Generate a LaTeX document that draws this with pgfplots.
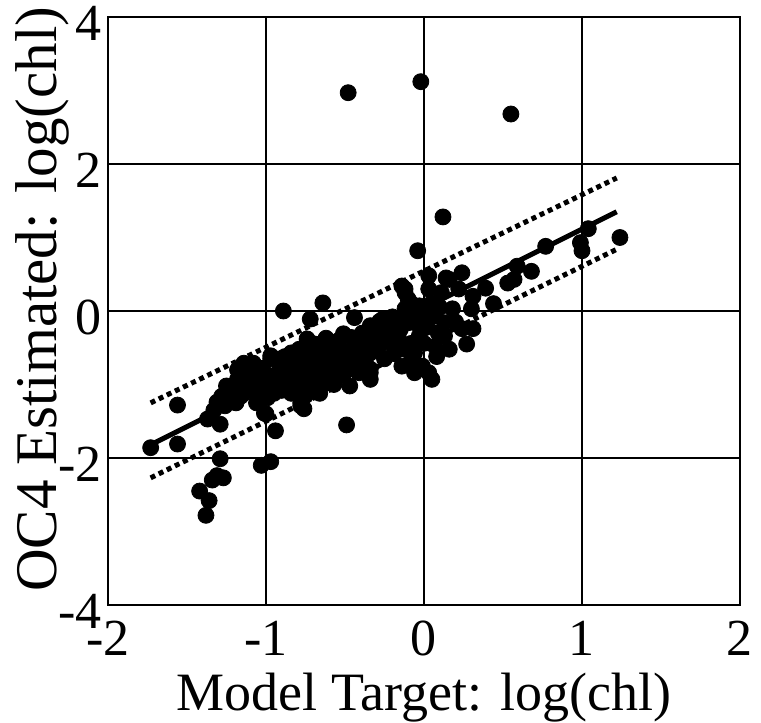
\documentclass[border=0pt]{standalone}
\usepackage{fontspec}
\setmainfont{Liberation Serif}
\usepackage{pgfplots}
\pgfplotsset{compat=1.18}
\usepackage{pgfplotstable}

\pgfplotstableread{
x y
-0.48 2.97
-0.02 3.12
0.55 2.68
0.12 1.28
-0.04 0.82
-0.89 0.00
-0.64 0.11
-0.72 -0.11
-0.44 -0.09
-0.49 -1.55
-1.03 -2.10
-0.97 -2.05
-1.29 -2.01
-1.27 -2.27
-1.34 -2.30
-1.31 -2.24
-1.42 -2.45
-1.36 -2.58
-1.38 -2.78
-1.73 -1.86
-1.56 -1.81
-1.56 -1.28
-0.94 -1.63
-1.00 -1.40
-1.37 -1.47
-1.29 -1.54
-1.33 -1.35
-1.28 -1.16
-1.22 -1.16
-1.26 -1.29
-1.31 -1.24
-1.20 -1.05
-1.16 -0.93
-1.16 -1.16
-1.09 -1.06
-1.12 -0.82
-1.08 -0.71
-1.01 -0.88
-1.06 -1.25
-1.14 -0.71
-1.09 -0.84
-0.97 -0.65
-0.91 -0.71
-0.83 -0.61
-0.74 -0.48
-0.76 -0.84
-1.24 -1.16
-1.14 -1.12
-1.03 -1.06
-0.93 -1.02
-0.84 -1.12
-0.78 -1.25
-0.76 -1.33
-1.01 -1.39
-0.74 -1.02
-1.18 -0.93
-1.06 -0.88
-0.95 -0.88
-0.83 -0.88
-0.87 -0.75
-0.91 -0.65
-0.84 -0.57
-0.81 -0.71
-0.89 -0.93
-0.83 -1.06
-0.95 -1.12
-0.97 -0.61
-1.25 -1.02
-1.19 -1.25
-1.18 -0.80
-1.13 -1.02
-1.10 -0.95
-1.04 -0.97
-1.02 -0.78
-0.99 -1.18
-0.98 -0.97
-0.92 -0.83
-0.90 -1.08
-0.88 -0.62
-0.86 -0.98
-0.80 -0.95
-0.79 -0.52
-0.77 -0.66
-0.75 -1.15
-0.71 -0.75
-0.70 -0.85
-0.69 -0.45
-0.67 -1.00
-0.65 -0.62
-0.63 -0.87
-0.60 -0.45
-0.59 -0.70
-0.57 -1.00
-0.54 -0.40
-0.52 -0.62
-0.50 -0.83
-0.46 -0.36
-0.45 -0.75
-0.44 -0.55
-0.39 -0.30
-0.38 -0.62
-0.37 -0.72
-0.29 -0.50
-0.27 -0.28
-0.25 -0.65
-0.23 -0.42
-0.20 -0.08
-0.19 -0.58
-0.15 -0.25
-0.08 -0.44
-0.04 -0.18
0.02 -0.22
0.09 -0.30
0.10 0.05
0.08 -0.62
-0.08 0.10
-0.74 -0.38
-0.62 -0.37
-0.51 -0.31
-0.34 -0.20
-0.20 -0.30
-0.81 -0.61
-0.68 -0.57
-0.56 -0.52
-0.41 -0.44
-0.31 -0.38
-0.16 -0.38
-0.78 -0.79
-0.66 -0.75
-0.53 -0.71
-0.43 -0.65
-0.34 -0.84
-0.34 -0.93
-0.47 -1.02
-0.62 -0.98
-0.72 -0.93
-0.78 -1.29
-0.66 -1.12
-0.58 -0.60
-0.48 -0.55
-0.60 -0.80
-0.70 -0.65
-0.55 -0.90
-0.41 -0.84
-0.12 -0.52
-0.07 -0.65
-0.06 -0.84
-0.14 -0.75
-0.10 -0.02
-0.16 -0.10
-0.12 0.30
-0.10 0.16
-0.28 -0.14
-0.14 0.34
-0.12 0.25
0.03 0.48
0.03 0.30
0.14 0.45
0.24 0.52
0.11 0.25
0.22 0.30
0.05 0.11
-0.03 0.07
-0.12 0.03
0.18 0.03
0.13 -0.16
0.07 -0.07
0.00 -0.07
-0.06 -0.03
-0.26 -0.11
-0.18 -0.20
-0.10 -0.16
-0.22 -0.34
-0.34 -0.44
-0.34 -0.57
-0.03 -0.34
0.00 -0.44
-0.06 -0.57
0.07 -0.48
0.13 -0.34
0.16 -0.52
-0.03 -0.75
0.03 -0.84
0.05 -0.93
-0.34 -0.79
0.24 -0.24
0.16 0.43
0.39 0.31
0.53 0.38
0.57 0.43
0.59 0.61
0.68 0.54
0.77 0.88
0.99 0.93
1.00 0.82
1.04 1.12
1.24 1.00
0.31 0.20
0.30 0.03
0.44 0.10
0.31 -0.24
0.27 -0.45
-0.01 -0.75
-0.09 -0.71
0.20 -0.15
}\pts

\begin{document}
\begin{tikzpicture}
\begin{axis}[
    scale only axis, width=316pt, height=294pt,
    xmin=-2, xmax=2, ymin=-4, ymax=4,
    xtick={-2,-1,0,1,2}, ytick={-4,-2,0,2,4},
    xticklabels={-2,-1,0,1,2}, yticklabels={-4,-2,0,2,4},
    grid=major, grid style={black, line width=0.6pt},
    axis line style={black, line width=0.9pt},
    major tick length=0pt,
    tick label style={font=\fontsize{26}{30}\selectfont},
    xticklabel style={inner sep=0pt, yshift=-8pt},
    yticklabel style={inner sep=0pt, xshift=-3pt, yshift=-3pt},
    xlabel={Model Target: log(chl)},
    ylabel={OC4 Estimated: log(chl)},
    xlabel style={font=\fontsize{27}{32}\selectfont, at={(rel axis cs:0.5,0)}, anchor=north, inner sep=0pt, yshift=-34pt},
    ylabel style={font=\fontsize{29.5}{34}\selectfont, at={(axis description cs:-0.1044,0.52)}, anchor=center, inner sep=0pt},
]
\addplot[only marks, mark=*, mark size=4pt, black] table {\pts};
\addplot[black, line width=2.5pt] coordinates {(-1.72,-1.81) (1.22,1.35)};
\addplot[black, line width=2.5pt, dash pattern=on 2.5pt off 2pt] coordinates {(-1.73,-1.25) (1.22,1.81)};
\addplot[black, line width=2.5pt, dash pattern=on 2.5pt off 2pt] coordinates {(-1.73,-2.27) (1.22,0.84)};
\end{axis}
\path ([shift={(-54pt,-58pt)}]current axis.south west) rectangle ([shift={(10.5pt,8.5pt)}]current axis.north east);
\end{tikzpicture}
\end{document}
